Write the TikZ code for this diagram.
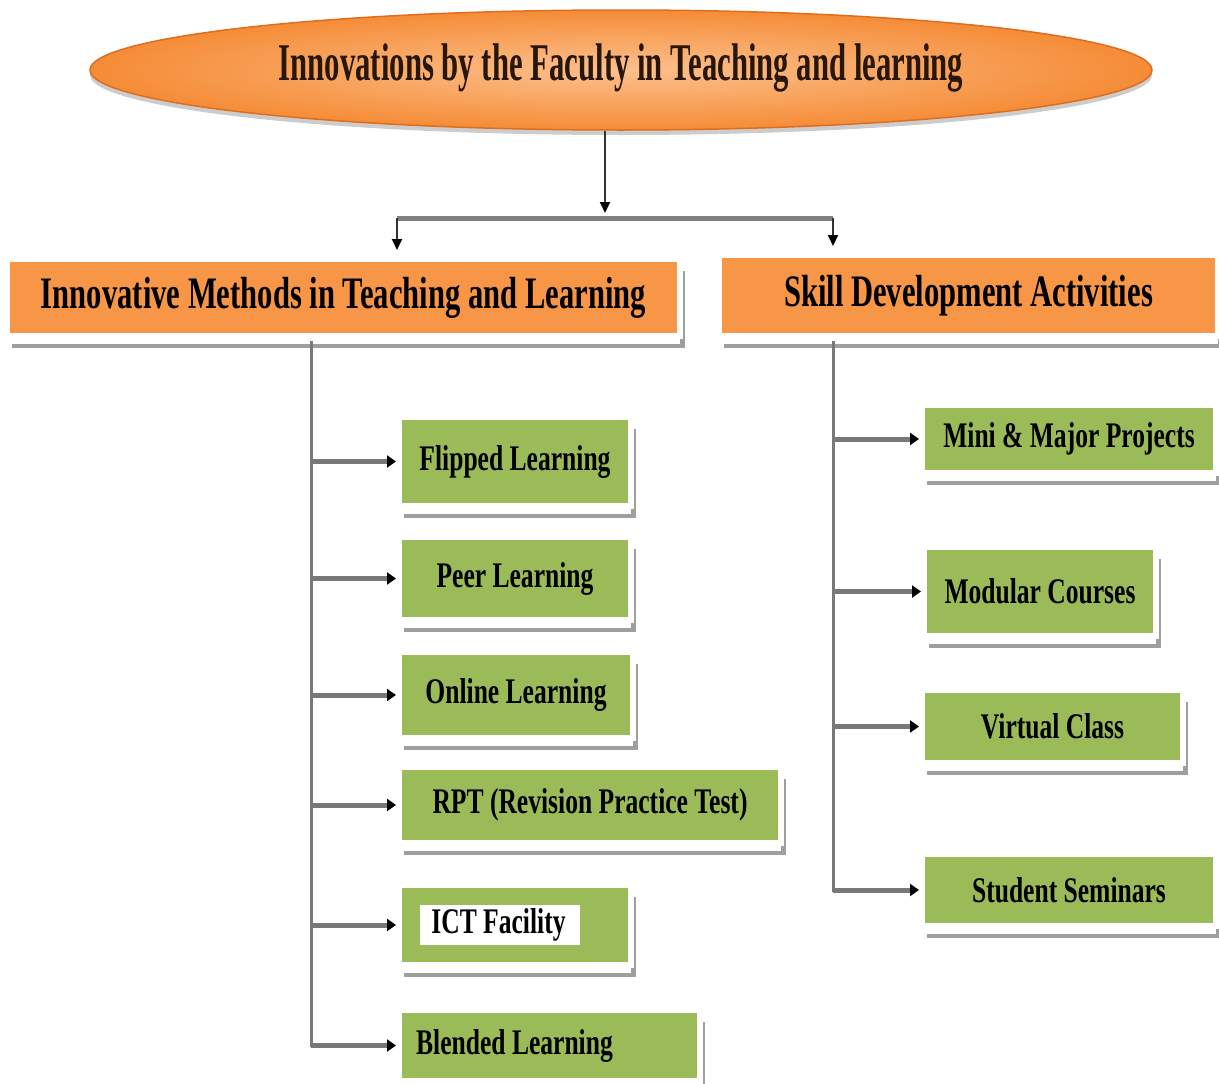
\documentclass[tikz,border=0pt]{standalone}
\usepackage{fontspec}
\setmainfont{Liberation Serif}
\newfontfamily\titlefont{Liberation Serif}[FakeStretch=0.58]
\newfontfamily\headfont{Liberation Serif}[FakeStretch=0.68]
\newfontfamily\itemfont{Liberation Serif}[FakeStretch=0.71]
\usepackage{tikz}
\usetikzlibrary{shapes.geometric, arrows.meta, shadows}

\definecolor{hdorange}{RGB}{247,150,70}
\definecolor{ellin}{RGB}{252,192,142}
\definecolor{ellout}{RGB}{245,140,55}
\definecolor{ellline}{RGB}{222,110,30}
\definecolor{titletext}{RGB}{40,22,10}
\definecolor{itemgreen}{RGB}{155,187,89}
\definecolor{linegray}{RGB}{120,120,120}
\definecolor{stemgray}{RGB}{50,50,50}

\begin{document}
\begin{tikzpicture}[x=1pt, y=-1pt,
    title/.style={ellipse, draw=ellline, line width=1.5pt, inner color=ellin, outer color=ellout, minimum width=1062pt, minimum height=120pt, inner sep=0pt, text height=36pt, text depth=16pt, text=titletext, font=\titlefont\bfseries\fontsize{53}{60}\selectfont, drop shadow={shadow xshift=0pt, shadow yshift=-5pt, fill=black!50, opacity=0.4}},
    framed/.style={rectangle, draw=white, line width=6pt, drop shadow={shadow xshift=5pt, shadow yshift=-12pt, fill=gray!75, opacity=1}, drop shadow={shadow xshift=0pt, shadow yshift=-8pt, fill=white, opacity=1}},
    head/.style={framed, fill=hdorange, font=\headfont\bfseries\fontsize{45}{50}\selectfont},
    item/.style={framed, fill=itemgreen, font=\itemfont\bfseries\fontsize{36}{40}\selectfont},
    stem/.style={draw=stemgray, line width=2pt, -{Triangle[length=11pt, width=10pt, color=black]}},
    bar/.style={draw=gray, line width=5pt},
    trunk/.style={draw=linegray, line width=3pt, line cap=rect},
    arrow/.style={draw=linegray, line width=5pt, -{Triangle[length=9pt, width=12pt, color=black]}}
]
    \useasboundingbox (0,0) rectangle (1219,1084);

    \node[title] (title) at (621,70) {Innovations by the Faculty in Teaching and learning};

    \node[head, minimum width=673pt, minimum height=77pt] (methods) at (343.5,297.5) {Innovative Methods in Teaching and Learning};
    \node[head, minimum width=499pt, minimum height=81pt] (skills) at (968.5,295.5) {Skill Development Activities};

    % methods in teaching and learning
    \node[item, minimum width=232pt, minimum height=89pt] (flipped) at (515,461.5) {Flipped Learning};
    \node[item, minimum width=232pt, minimum height=83pt] (peer) at (515,578.5) {Peer Learning};
    \node[item, minimum width=234pt, minimum height=86pt] (online) at (516,695) {Online Learning};
    \node[item, minimum width=382pt, minimum height=76pt] (rpt) at (590,805) {RPT (Revision Practice Test)};
    \node[item, minimum width=232pt, minimum height=80pt] (ict) at (515,925) {\setlength{\fboxsep}{3.5pt}\colorbox{white}{\hspace{8pt}ICT Facility\hspace{11pt}}\hspace{30pt}\null};
    \node[item, minimum width=301pt, minimum height=71pt] (blended) at (549.5,1045.5) {Blended Learning\hspace{70pt}\null};

    % skill development
    \node[item, minimum width=294pt, minimum height=68pt] (mini) at (1069,439) {Mini \& Major Projects};
    \node[item, minimum width=232pt, minimum height=89pt] (modular) at (1040,591.5) {Modular Courses};
    \node[item, minimum width=261pt, minimum height=73pt] (virtual) at (1052.5,726.5) {Virtual Class};
    \node[item, minimum width=294pt, minimum height=72pt] (seminars) at (1069,890) {Student Seminars};

    \coordinate (split) at (605,218);
    \coordinate (ldrop) at (397,218);
    \coordinate (rdrop) at (833,218);
    \coordinate (ltop) at (311,342);
    \coordinate (rtop) at (833,342);

    \draw[stem, shorten >=5pt] (title.south -| split) -- (split);
    \draw[bar] (ldrop) -- (rdrop);
    \draw[stem, shorten >=6pt] (ldrop) -- (ldrop |- methods.north);
    \draw[stem, shorten >=6pt] (rdrop) -- (rdrop |- skills.north);

    \draw[trunk] (ltop) -- (ltop |- blended.west);
    \draw[trunk] (rtop) -- (rtop |- seminars.west);
    \foreach \n in {flipped, peer, online, rpt, ict, blended}
        \draw[arrow] (ltop |- \n.west) -- (\n.west);
    \foreach \n in {mini, modular, virtual, seminars}
        \draw[arrow] (rtop |- \n.west) -- (\n.west);
\end{tikzpicture}
\end{document}
